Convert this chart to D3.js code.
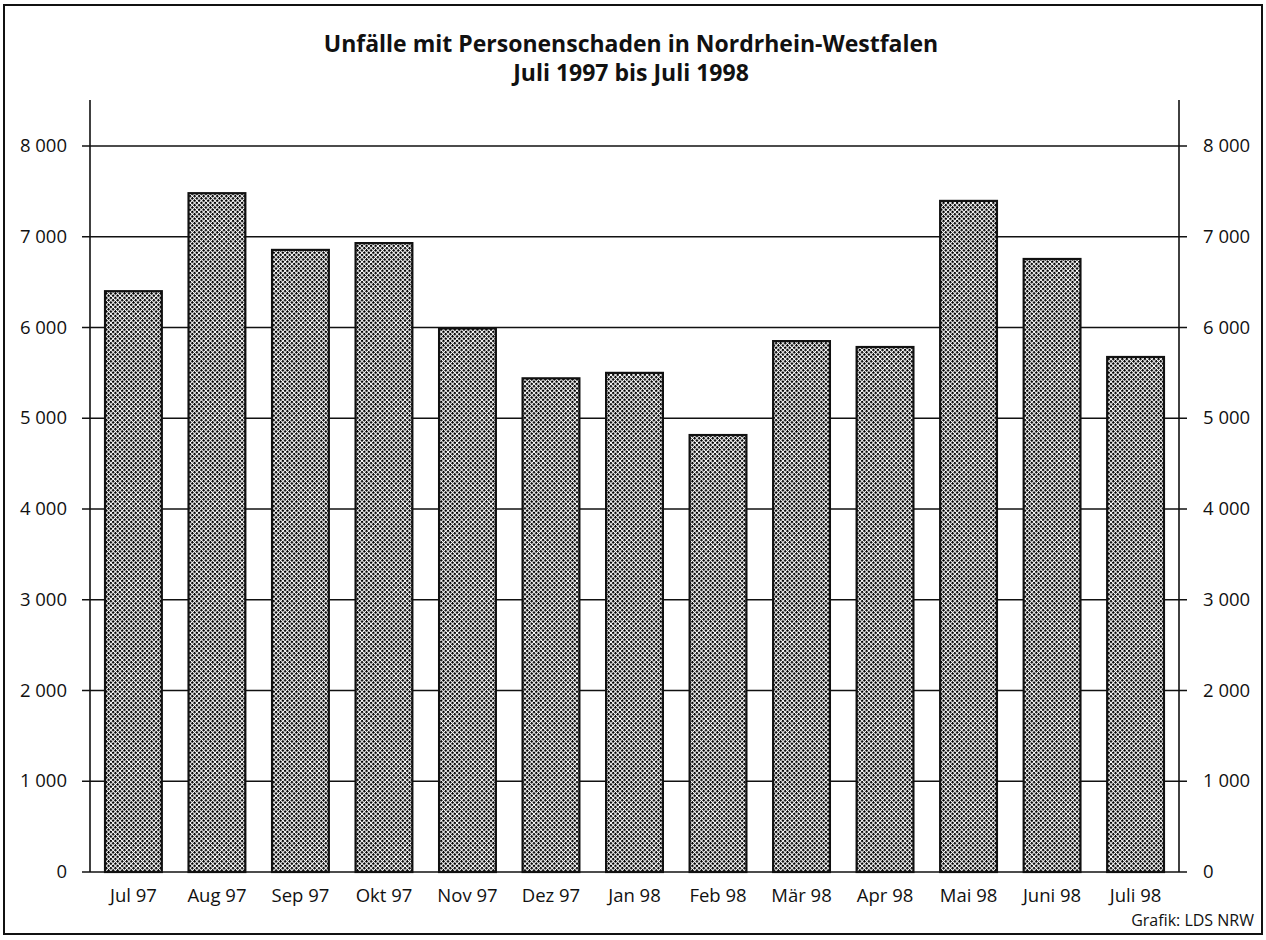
<!DOCTYPE html>
<html>
<head>
<meta charset="utf-8">
<script src="https://cdn.jsdelivr.net/npm/d3@7"></script>
<style>
  body { margin: 0; background: #fff; }
  text { font-family: "Open Sans", "Noto Sans", sans-serif; fill: #111; }
</style>
</head>
<body>
<div id="root"></div>
<script>
// Daten
const months = ["Jul 97", "Aug 97", "Sep 97", "Okt 97", "Nov 97", "Dez 97", "Jan 98",
  "Feb 98", "Mär 98", "Apr 98", "Mai 98", "Juni 98", "Juli 98"];
const accidents = [6400, 7480, 6855, 6930, 5990, 5440, 5500, 4815, 5850, 5785, 7395, 6755, 5675];
const yTicks = [0, 1000, 2000, 3000, 4000, 5000, 6000, 7000, 8000];
const titleLines = ["Unfälle mit Personenschaden in Nordrhein-Westfalen", "Juli 1997 bis Juli 1998"];
const source = "Grafik: LDS NRW";

const width = 1266;
const height = 940;
const plotLeft = 90, plotRight = 1179, plotTop = 100, plotBottom = 872;

const svg = d3.select("#root")
  .append("svg")
    .attr("width", width)
    .attr("height", height);

// Raster-Muster für die Balken
const pattern = svg.append("defs")
  .append("pattern")
    .attr("id", "dots")
    .attr("width", 3.2)
    .attr("height", 3.2)
    .attr("patternUnits", "userSpaceOnUse")
    .attr("patternTransform", "rotate(45)");
pattern.append("rect")
    .attr("width", 3.2).attr("height", 3.2).attr("fill", "#fff");
pattern.append("rect")
    .attr("width", 2.2).attr("height", 2.2).attr("fill", "#000");

// Rahmen
svg.append("rect")
    .attr("x", 4).attr("y", 5)
    .attr("width", 1258).attr("height", 929)
    .attr("fill", "none")
    .attr("stroke", "#111")
    .attr("stroke-width", 2);

const xScale = d3.scaleBand()
  .domain(months)
  .range([plotLeft, plotRight])
  .paddingInner(0.32)
  .paddingOuter(0.18);

const yScale = d3.scaleLinear()
  .domain([0, 8000])
  .range([plotBottom, 146]);

const fmt = d => d3.format(",")(d).replace(",", " ");

// Gitterlinien
svg.append("g")
  .selectAll("line")
  .data(yTicks)
  .join("line")
    .attr("x1", plotLeft - 8)
    .attr("x2", plotRight + 8)
    .attr("y1", d => yScale(d))
    .attr("y2", d => yScale(d))
    .attr("stroke", "#111")
    .attr("stroke-width", 1.6);

// Achsen links und rechts
[plotLeft, plotRight].forEach(x => {
  svg.append("line")
      .attr("x1", x).attr("x2", x)
      .attr("y1", plotTop).attr("y2", plotBottom)
      .attr("stroke", "#111")
      .attr("stroke-width", 1.6);
});

// Balken
svg.append("g")
  .selectAll("rect")
  .data(accidents)
  .join("rect")
    .attr("x", (d, i) => xScale(months[i]))
    .attr("y", d => yScale(d))
    .attr("width", xScale.bandwidth())
    .attr("height", d => yScale(0) - yScale(d))
    .attr("fill", "url(#dots)")
    .attr("stroke", "#111")
    .attr("stroke-width", 2.2);

// Beschriftungen
svg.append("g")
  .selectAll("text")
  .data(yTicks)
  .join("text")
    .attr("x", 67)
    .attr("y", d => yScale(d) + 6)
    .attr("text-anchor", "end")
    .style("font-size", "18.5px")
    .text(fmt);

svg.append("g")
  .selectAll("text")
  .data(yTicks)
  .join("text")
    .attr("x", 1203)
    .attr("y", d => yScale(d) + 6)
    .attr("text-anchor", "start")
    .style("font-size", "18.5px")
    .text(fmt);

svg.append("g")
  .selectAll("text")
  .data(months)
  .join("text")
    .attr("x", d => xScale(d) + xScale.bandwidth() / 2)
    .attr("y", 902)
    .attr("text-anchor", "middle")
    .style("font-size", "18.5px")
    .text(d => d);

svg.append("g")
  .selectAll("text")
  .data(titleLines)
  .join("text")
    .attr("x", 631)
    .attr("y", (d, i) => 52 + i * 29)
    .attr("text-anchor", "middle")
    .style("font-size", "23px")
    .style("font-weight", "bold")
    .text(d => d);

svg.append("text")
    .attr("x", 1254)
    .attr("y", 926)
    .attr("text-anchor", "end")
    .style("font-size", "16px")
    .text(source);
</script>
</body>
</html>
